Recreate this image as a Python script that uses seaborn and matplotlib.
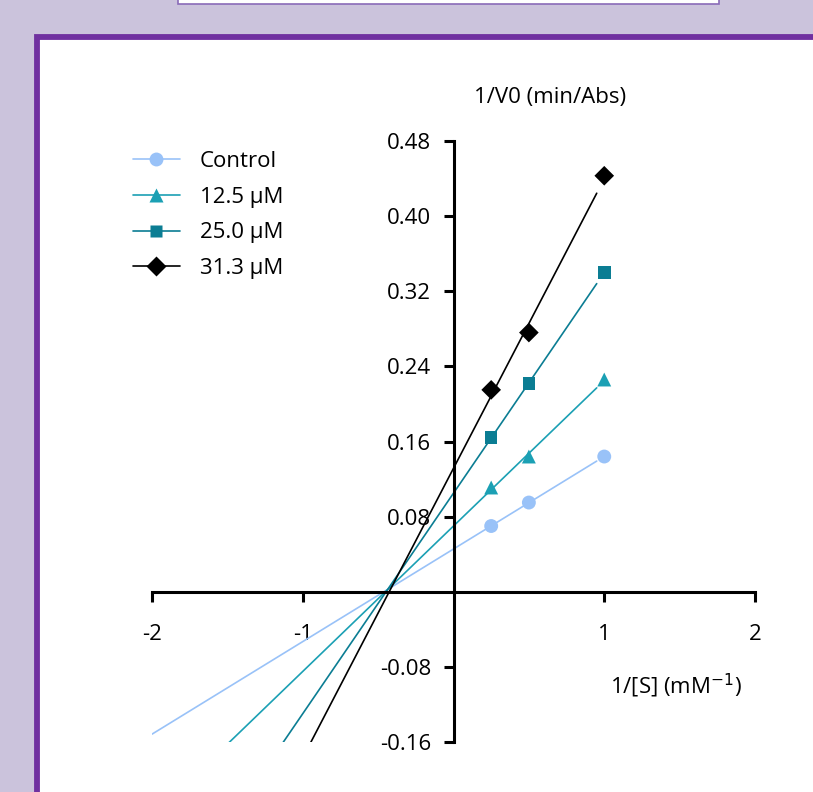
import numpy as np
import pandas as pd
import matplotlib
matplotlib.use("Agg")
import matplotlib.pyplot as plt
from matplotlib.patches import Rectangle
from matplotlib.lines import Line2D
import seaborn as sns

# ---- data ----
inv_s = [0.25, 0.5, 1.0]
series_names = ["Control", "12.5 \u03bcM", "25.0 \u03bcM", "31.3 \u03bcM"]
control = [0.070, 0.095, 0.144]
c125 = [0.111, 0.144, 0.226]
c250 = [0.164, 0.222, 0.340]
c313 = [0.215, 0.276, 0.443]
x_ticks = [-2, -1, 1, 2]
y_ticks = [-0.16, -0.08, 0.08, 0.16, 0.24, 0.32, 0.40, 0.48]

colors = ["#99C2F8", "#1BA0B4", "#0B7D93", "#000000"]
markers = ["o", "^", "s", "D"]
msizes = [10, 10, 9, 10]

sns.set_style("white")
plt.rcParams['font.family'] = ['Open Sans', 'DejaVu Sans']
plt.rcParams['text.color'] = 'black'
plt.rcParams['xtick.color'] = 'black'
plt.rcParams['ytick.color'] = 'black'

FS = 16

fig = plt.figure(figsize=(8.13, 7.92), dpi=100)
fig.patch.set_facecolor("#CBC3DC")

W, H = 813, 792
def fx(px):
    return px / W
def fy(py):
    return 1 - py / H

# white panel with purple border
fig.patches.append(Rectangle((fx(37), fy(900)), fx(900), fy(37) - fy(900),
                             transform=fig.transFigure, facecolor="white",
                             edgecolor="#7030A0", linewidth=4.2, zorder=-5))
# top white box (partially visible)
fig.patches.append(Rectangle((fx(178), fy(4)), fx(719) - fx(178), fy(-40) - fy(4),
                             transform=fig.transFigure, facecolor="white",
                             edgecolor="#8A6BB8", linewidth=1.2, zorder=-5))

ax = fig.add_axes([fx(152), fy(742), fx(755) - fx(152), fy(141) - fy(742)])
ax.set_facecolor("none")
ax.set_zorder(2)

all_vals = [control, c125, c250, c313]
rows = []
for name, vals in zip(series_names, all_vals):
    for xv, yv in zip(inv_s, vals):
        rows.append({"x": xv, "y": yv, "series": name})
df = pd.DataFrame(rows)

xfit = np.linspace(-2, 0.95, 200)
for name, vals, c in zip(series_names, all_vals, colors):
    m, b = np.polyfit(inv_s, vals, 1)
    ax.plot(xfit, m * xfit + b, color=c, lw=1.2, zorder=2)

for name, c, mk, ms in zip(series_names, colors, markers, msizes):
    sub = df[df.series == name]
    sns.scatterplot(data=sub, x="x", y="y", ax=ax, color=c, marker=mk,
                    s=ms ** 2, edgecolor="none", zorder=3, legend=False)

ax.set_xlim(-2, 2)
ax.set_ylim(-0.16, 0.48)
ax.spines['left'].set_position(('data', 0))
ax.spines['bottom'].set_position(('data', 0))
ax.spines['right'].set_visible(False)
ax.spines['top'].set_visible(False)
for s in ['left', 'bottom']:
    ax.spines[s].set_linewidth(2.2)
    ax.spines[s].set_color("black")
ax.set_xticks(x_ticks)
ax.set_xticklabels([f"{v:g}" for v in x_ticks])
ax.set_yticks(y_ticks)
ax.set_yticklabels([f"{v:.2f}" for v in y_ticks])
ax.tick_params(axis='x', bottom=True, top=False, direction='out', length=7, width=2.2,
               pad=16, labelsize=FS, colors='black')
ax.tick_params(axis='y', left=True, right=False, direction='out', length=7, width=2.2,
               pad=9, labelsize=FS, colors='black')
ax.set_xlabel("")
ax.set_ylabel("")

fig.text(fx(550), fy(98), "1/V0 (min/Abs)", ha="center", va="center", fontsize=FS,
         color="black")
fig.text(fx(676), fy(686), "1/[S] (mM$^{-1}$)", ha="center", va="center", fontsize=FS,
         color="black")

handles = [Line2D([0], [0], color=c, marker=mk, markersize=ms, lw=1.2,
                  markeredgecolor="none") for c, mk, ms in zip(colors, markers, msizes)]
leg = ax.legend(handles, series_names, loc="upper left", bbox_to_anchor=(fx(122), fy(140)),
                bbox_transform=fig.transFigure, frameon=False, fontsize=FS,
                handlelength=2.1, handletextpad=0.9, labelspacing=0.66, borderpad=0)
for t in leg.get_texts():
    t.set_color("black")

fig.savefig("out.png", dpi=100, facecolor=fig.get_facecolor())
